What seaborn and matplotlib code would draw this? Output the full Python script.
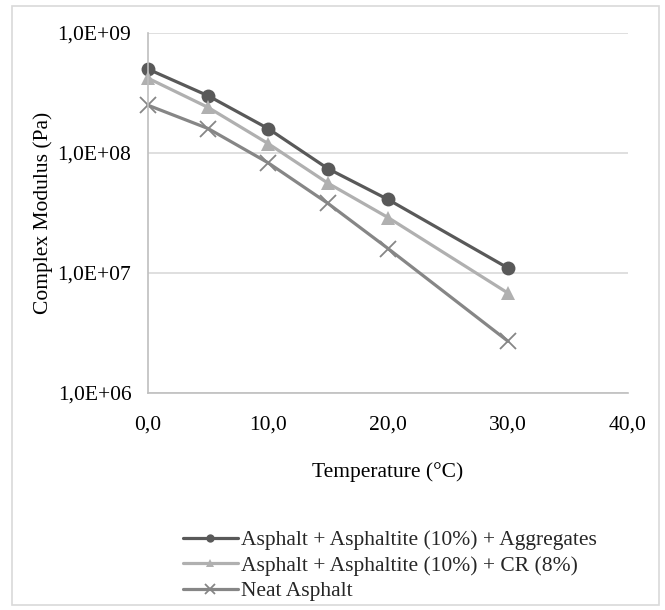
import matplotlib.pyplot as plt
import matplotlib.ticker as mticker
import numpy as np
import pandas as pd
import seaborn as sns

temps = [0, 5, 10, 15, 20, 30]
aggregates = [5.0e8, 3.0e8, 1.6e8, 7.4e7, 4.1e7, 1.1e7]
crumb_rubber = [4.2e8, 2.4e8, 1.2e8, 5.6e7, 2.9e7, 6.8e6]
neat = [2.5e8, 1.6e8, 8.3e7, 3.8e7, 1.6e7, 2.7e6]

labels = ['Asphalt + Asphaltite (10%) + Aggregates',
          'Asphalt + Asphaltite (10%) + CR (8%)',
          'Neat Asphalt']
colors = ['#595959', '#b0b0b0', '#868686']
markers = ['o', '^', 'x']

sns.set_theme(style='white')
plt.rcParams['font.family'] = ['Liberation Serif', 'DejaVu Serif']
fs = 15.5

fig = plt.figure(figsize=(6.65, 6.1), dpi=100)
ax = fig.add_axes([0.2226, 0.3557, 0.7218, 0.5902])

series = [aggregates, crumb_rubber, neat]
for vals, lab, col, mk in zip(series, labels, colors, markers):
    df = pd.DataFrame({'T': temps, 'G': vals})
    sns.lineplot(data=df, x='T', y='G', ax=ax, color=col, marker=mk,
                 linewidth=2.3, markersize=10 if mk != 'x' else 11,
                 markeredgewidth=1.3 if mk == 'x' else 0,
                 markeredgecolor=col, label=lab, legend=False, clip_on=False)

ax.set_yscale('log')
ax.set_ylim(1e6, 1e9)
ax.set_xlim(0, 40)
ax.set_xticks([0, 10, 20, 30, 40])
ax.set_yticks([1e6, 1e7, 1e8, 1e9])
ax.yaxis.set_minor_locator(mticker.NullLocator())


def yfmt(v, pos):
    e = int(round(np.log10(v)))
    return '1,0E+%02d' % e


ax.yaxis.set_major_formatter(mticker.FuncFormatter(yfmt))
ax.xaxis.set_major_formatter(mticker.FuncFormatter(lambda v, p: ('%.1f' % v).replace('.', ',')))

ax.grid(axis='y', color='#d9d9d9', linewidth=1.2)
ax.grid(axis='x', visible=False)
for s in ['top', 'right']:
    ax.spines[s].set_visible(False)
for s in ['left', 'bottom']:
    ax.spines[s].set_color('#bfbfbf')
    ax.spines[s].set_linewidth(1.2)
ax.tick_params(axis='both', length=0, labelsize=fs, colors='black')
ax.tick_params(axis='y', pad=12)
ax.tick_params(axis='x', pad=16)

ax.set_xlabel('Temperature (°C)', fontsize=fs, color='black', labelpad=20)
ax.set_ylabel('Complex Modulus (Pa)', fontsize=fs, color='black', labelpad=3)

handles, labs = ax.get_legend_handles_labels()
fig.legend(handles, labs, loc='upper left', bbox_to_anchor=(0.262, 0.145),
           frameon=False, fontsize=fs, handlelength=2.55, handletextpad=0.15,
           labelspacing=0.25, borderaxespad=0, markerscale=0.6)

fig.patches.append(plt.Rectangle((0.018, 0.008), 0.973, 0.982, transform=fig.transFigure,
                                 fill=False, edgecolor='#d9d9d9', linewidth=1.2))

fig.savefig('out.png', dpi=100)
